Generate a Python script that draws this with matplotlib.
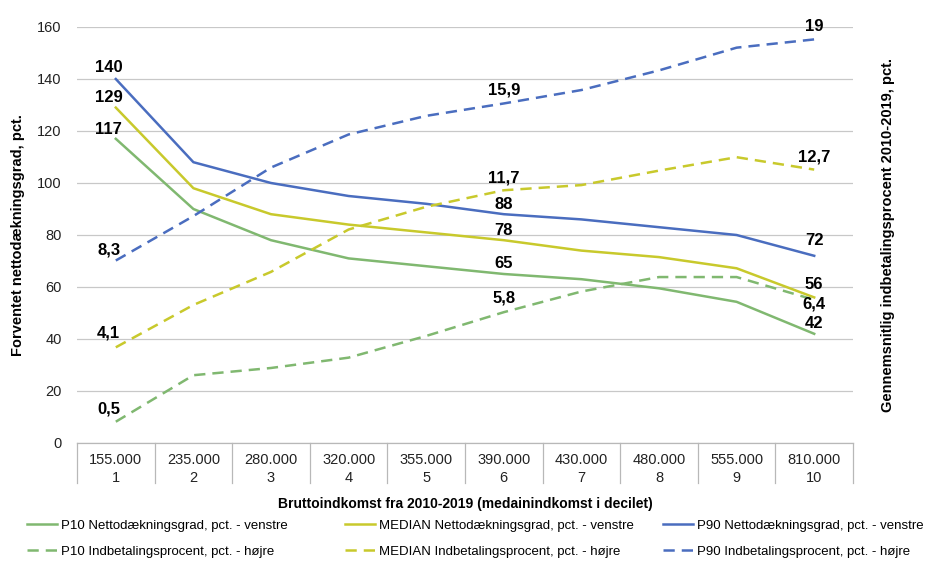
import matplotlib
matplotlib.use("Agg")
import matplotlib.pyplot as plt
import matplotlib.transforms as mtransforms
import numpy as np

plt.rcParams["font.family"] = ["Liberation Sans", "DejaVu Sans"]

# decile data
deciler = [1, 2, 3, 4, 5, 6, 7, 8, 9, 10]
indkomst = ["155.000", "235.000", "280.000", "320.000", "355.000",
            "390.000", "430.000", "480.000", "555.000", "810.000"]

# nettodaekningsgrad, venstre akse
p10_netto = [117, 90, 78, 71, 68, 65, 63, 59.5, 54.3, 42]
median_netto = [129, 98, 88, 84, 81, 78, 74, 71.5, 67.2, 56]
p90_netto = [140, 108, 100, 95, 92, 88, 86, 83, 80, 72]

# indbetalingsprocent, hoejre akse
p10_indb = [0.5, 2.75, 3.1, 3.6, 4.65, 5.8, 6.8, 7.5, 7.5, 6.4]
median_indb = [4.1, 6.15, 7.75, 9.8, 10.9, 11.7, 11.95, 12.65, 13.3, 12.7]
p90_indb = [8.3, 10.45, 12.8, 14.4, 15.3, 15.9, 16.55, 17.5, 18.6, 19]

groen = "#80b870"
gul = "#c8c92c"
blaa = "#4a6dbf"

fig = plt.figure(figsize=(9.3, 5.68), dpi=100)
ax = fig.add_axes([77 / 930, 1 - 443 / 568, 776 / 930, 416 / 568])
ax2 = ax.twinx()

lw = 1.8
stiplet = (0, (4.5, 2.8))

l1, = ax.plot(deciler, p10_netto, color=groen, lw=lw, solid_joinstyle="round")
l2, = ax.plot(deciler, median_netto, color=gul, lw=lw, solid_joinstyle="round")
l3, = ax.plot(deciler, p90_netto, color=blaa, lw=lw, solid_joinstyle="round")
d1, = ax2.plot(deciler, p10_indb, color=groen, lw=lw, linestyle=stiplet)
d2, = ax2.plot(deciler, median_indb, color=gul, lw=lw, linestyle=stiplet)
d3, = ax2.plot(deciler, p90_indb, color=blaa, lw=lw, linestyle=stiplet)

ax.set_xlim(0.5, 10.5)
ax.set_ylim(0, 160)
ax2.set_ylim(-0.53, 19.6)
ax.set_yticks(np.arange(0, 161, 20))
ax.yaxis.grid(True, color="#c8c8c8", lw=0.9)
ax.set_axisbelow(True)
ax.tick_params(axis="y", length=0, pad=11, labelsize=10.5, labelcolor="#222222")
ax2.tick_params(axis="y", right=False, labelright=False, length=0)

for a in (ax, ax2):
    for s in ("left", "right", "top", "bottom"):
        a.spines[s].set_visible(False)

# x-akse som tabel
ax.set_xticks(deciler)
ax.set_xticklabels([f"{v}\n{d}" for v, d in zip(indkomst, deciler)],
                   fontsize=10.5, linespacing=1.35, color="#222222")
ax.tick_params(axis="x", length=0, pad=7)
trans = mtransforms.blended_transform_factory(ax.transData, ax.transAxes)
tabel_bund = -40 / 416
ax.plot([0.5, 10.5], [0, 0], transform=trans, color="#b8b8b8", lw=0.9, clip_on=False)
for x in np.arange(0.5, 11, 1):
    ax.plot([x, x], [0, tabel_bund], transform=trans, color="#b8b8b8", lw=0.9,
            clip_on=False)

ax.set_xlabel("Bruttoindkomst fra 2010-2019 (medainindkomst i decilet)",
              fontsize=10, fontweight="bold", labelpad=9)
ax.set_ylabel("Forventet nettodækningsgrad, pct.", fontsize=10.5,
              fontweight="bold", labelpad=9)
ax2.set_ylabel("Gennemsnitlig indbetalingsprocent 2010-2019, pct.", fontsize=10.5,
               fontweight="bold", labelpad=20)


def etiket(a, x, y, tekst, dx, dy):
    a.annotate(tekst, (x, y), xytext=(dx, dy), textcoords="offset pixels",
               ha="center", va="center", fontsize=12, fontweight="bold")


def fmt(v):
    return f"{v:g}".replace(".", ",")


# etiketter ved decil 1
etiket(ax, 1, p90_netto[0], fmt(p90_netto[0]), -7, 11)
etiket(ax, 1, median_netto[0], fmt(median_netto[0]), -7, 10)
etiket(ax, 1, p10_netto[0], fmt(p10_netto[0]), -7, 9)
etiket(ax2, 1, p90_indb[0], fmt(p90_indb[0]), -7, 11)
etiket(ax2, 1, median_indb[0], fmt(median_indb[0]), -7, 14)
etiket(ax2, 1, p10_indb[0], fmt(p10_indb[0]), -7, 13)
# decil 6
etiket(ax, 6, p90_netto[5], fmt(p90_netto[5]), 0, 10)
etiket(ax, 6, median_netto[5], fmt(median_netto[5]), 0, 10)
etiket(ax, 6, p10_netto[5], fmt(p10_netto[5]), 0, 10)
etiket(ax2, 6, p90_indb[5], fmt(p90_indb[5]), 0, 13)
etiket(ax2, 6, median_indb[5], fmt(median_indb[5]), 0, 12)
etiket(ax2, 6, p10_indb[5], fmt(p10_indb[5]), 0, 14)
# decil 10
etiket(ax, 10, p90_netto[9], fmt(p90_netto[9]), 0, 15)
etiket(ax, 10, median_netto[9], fmt(median_netto[9]), 0, 13)
etiket(ax, 10, p10_netto[9], fmt(p10_netto[9]), 0, 10)
etiket(ax2, 10, p90_indb[9], fmt(p90_indb[9]), 0, 13)
etiket(ax2, 10, median_indb[9], fmt(median_indb[9]), 0, 13)
etiket(ax2, 10, p10_indb[9], fmt(p10_indb[9]), 0, -4)

# forklaring: en kolonne pr. percentil
kolonner = [
    ((l1, d1), ("P10 Nettodækningsgrad, pct. - venstre",
                "P10 Indbetalingsprocent, pct. - højre"), 15),
    ((l2, d2), ("MEDIAN Nettodækningsgrad, pct. - venstre",
                "MEDIAN Indbetalingsprocent, pct. - højre"), 333),
    ((l3, d3), ("P90 Nettodækningsgrad, pct. - venstre",
                "P90 Indbetalingsprocent, pct. - højre"), 651),
]
for h, lab, x0 in kolonner:
    fig.legend(h, lab, loc="upper left", bbox_to_anchor=(x0 / 930, 1 - 508 / 568),
               frameon=False, fontsize=9.5, handlelength=2.3, handletextpad=0.3,
               labelspacing=1.0)

fig.savefig("out.png", dpi=100)
